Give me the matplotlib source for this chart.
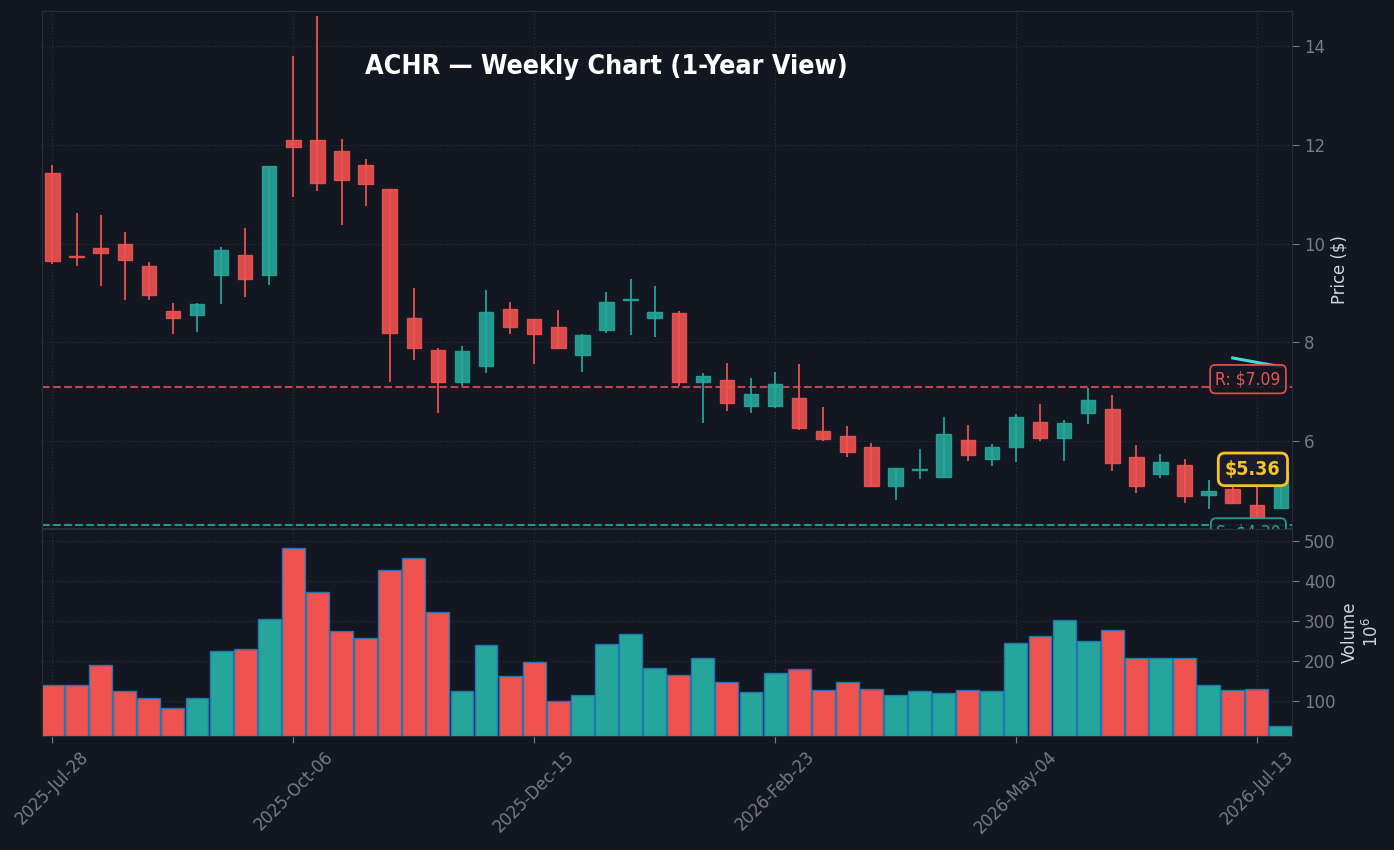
import matplotlib
matplotlib.use("Agg")
import matplotlib.pyplot as plt
import matplotlib.transforms as mtransforms
import numpy as np
import pandas as pd

# weekly OHLC (USD) and volume (millions)
opens = [11.43, 9.74, 9.91, 10.00, 9.54, 8.63, 8.56, 9.36, 9.77, 9.37,
         12.11, 12.11, 11.88, 11.59, 11.10, 8.49, 7.84, 7.19, 7.51, 8.67,
         8.47, 8.30, 7.73, 8.24, 8.85, 8.49, 8.59, 7.19, 7.24, 6.70,
         6.70, 6.86, 6.20, 6.09, 5.88, 5.09, 5.41, 5.27, 6.02, 5.64,
         5.87, 6.39, 6.05, 6.56, 6.65, 5.68, 5.32, 5.50, 4.90, 5.03,
         4.69, 4.64]
highs = [11.59, 10.63, 10.58, 10.23, 9.62, 8.79, 8.79, 9.93, 10.32, 11.58,
         13.81, 14.62, 12.12, 11.72, 11.10, 9.10, 7.89, 7.92, 9.06, 8.82,
         8.47, 8.66, 8.17, 9.02, 9.28, 9.14, 8.63, 7.38, 7.58, 7.27,
         7.40, 7.56, 6.68, 6.29, 5.95, 5.44, 5.83, 6.48, 6.32, 5.93,
         6.54, 6.75, 6.43, 7.08, 6.93, 5.91, 5.73, 5.62, 5.20, 5.10,
         5.10, 5.40]
lows = [9.58, 9.55, 9.13, 8.86, 8.86, 8.17, 8.21, 8.78, 8.92, 9.16,
        10.95, 11.07, 10.38, 10.77, 7.20, 7.63, 6.57, 7.12, 7.38, 8.17,
        7.56, 7.88, 7.40, 8.19, 8.15, 8.11, 7.12, 6.36, 6.61, 6.57,
        6.66, 6.22, 5.99, 5.67, 5.09, 4.80, 5.23, 5.25, 5.59, 5.48,
        5.57, 6.00, 5.59, 6.33, 5.39, 4.95, 5.25, 4.73, 4.62, 4.71,
        4.41, 4.64]
closes = [9.64, 9.72, 9.80, 9.66, 8.96, 8.49, 8.77, 9.86, 9.28, 11.58,
          11.95, 11.23, 11.29, 11.21, 8.18, 7.88, 7.19, 7.82, 8.61, 8.31,
          8.16, 7.88, 8.14, 8.82, 8.87, 8.62, 7.19, 7.31, 6.77, 6.94,
          7.15, 6.25, 6.03, 5.77, 5.09, 5.44, 5.43, 6.13, 5.71, 5.88,
          6.49, 6.05, 6.37, 6.82, 5.55, 5.08, 5.57, 4.87, 4.99, 4.74,
          4.45, 5.36]
volumes = [141, 141, 191, 126, 108, 83, 108, 226, 231, 304,
           481, 373, 276, 258, 428, 456, 323, 126, 241, 163,
           198, 101, 116, 243, 268, 183, 166, 209, 148, 123,
           171, 180, 128, 148, 131, 116, 126, 121, 128, 126,
           246, 263, 302, 251, 278, 208, 208, 208, 141, 128,
           131, 38]
dates = pd.date_range("2025-07-28", periods=52, freq="7D")

resistance = 7.09
support = 4.30
trend_x = [49, 51]
trend_y = [7.68, 7.50]

BG = "#131722"
UP = "#26a69a"
DOWN = "#ef5350"
GRID = "#2a2e39"
TICK = "#787b86"

plt.rcParams["font.family"] = "DejaVu Sans"
plt.rcParams["font.stretch"] = "condensed"

fig = plt.figure(figsize=(13.94, 8.5), dpi=100, facecolor=BG)
ax = fig.add_axes([0.0304, 0.3788, 0.8964, 0.6078])
axv = fig.add_axes([0.0304, 0.1341, 0.8964, 0.2435], sharex=ax)

x = np.arange(len(closes))
o = np.array(opens)
c = np.array(closes)
up = c >= o
colors = np.where(up, UP, DOWN)

# candles
ax.vlines(x, lows, highs, colors=colors, linewidth=1.4, alpha=0.9, zorder=2)
ax.bar(x, np.abs(c - o), 0.6, bottom=np.minimum(o, c), color=colors,
       edgecolor=colors, linewidth=1, alpha=0.9, zorder=3)

# volume
axv.bar(x, volumes, 0.95, color=colors, edgecolor="#1f77b4", linewidth=1, zorder=2)

# support / resistance
ax.axhline(resistance, color=DOWN, ls="--", lw=1.5, alpha=0.8, zorder=1)
ax.axhline(support, color=UP, ls="--", lw=1.5, alpha=0.9, zorder=1)
ax.plot(trend_x, trend_y, color="#40e0d0", lw=2.2, zorder=4)

tr = mtransforms.blended_transform_factory(ax.transAxes, ax.transData)
ax.text(0.991, resistance + 0.16, f"R: ${resistance:.2f}", transform=tr,
        ha="right", va="center", fontsize=12.5, color=DOWN, zorder=6,
        bbox=dict(boxstyle="round,pad=0.3", fc=BG, ec=DOWN, lw=1.3, alpha=0.9))
ax.text(0.991, support - 0.16, f"S: ${support:.2f}", transform=tr,
        ha="right", va="center", fontsize=12.5, color=UP, zorder=6,
        bbox=dict(boxstyle="round,pad=0.3", fc=BG, ec=UP, lw=1.3, alpha=0.9))
ax.text(0.991, closes[-1] + 0.06, f"${closes[-1]:.2f}", transform=tr,
        ha="right", va="center", fontsize=14, fontweight="bold", color="#f7c325",
        zorder=7, bbox=dict(boxstyle="round,pad=0.35", fc="#1a1d2e", ec="#f7c325", lw=2))

ax.text(0.451, 0.892, "ACHR — Weekly Chart (1-Year View)", transform=ax.transAxes,
        ha="center", va="center", fontsize=19.3, fontweight="bold", color="white")

ax.set_ylim(4.23, 14.71)
ax.set_xlim(-0.42, 51.46)
axv.set_ylim(14, 529)
ax.set_yticks([6, 8, 10, 12, 14])
axv.set_yticks([100, 200, 300, 400, 500])

ticks = x[::10]
axv.set_xticks(ticks)
axv.set_xticklabels([d.strftime("%Y-%b-%d") for d in dates[ticks]], rotation=45, ha="center")
plt.setp(ax.get_xticklabels(), visible=False)

for a in (ax, axv):
    a.set_facecolor(BG)
    a.yaxis.tick_right()
    a.yaxis.set_label_position("right")
    a.grid(True, color=GRID, ls=":", lw=0.9)
    a.set_axisbelow(True)
    a.tick_params(colors=TICK, labelsize=13.2, length=5)
    for s in a.spines.values():
        s.set_color(GRID)
ax.tick_params(axis="x", length=0)

ax.set_ylabel("Price ($)", color="#d1d4dc", fontsize=13.2)
axv.set_ylabel("Volume\n$10^{6}$", color="#d1d4dc", fontsize=13.2)

fig.savefig("out.png", facecolor=BG)
